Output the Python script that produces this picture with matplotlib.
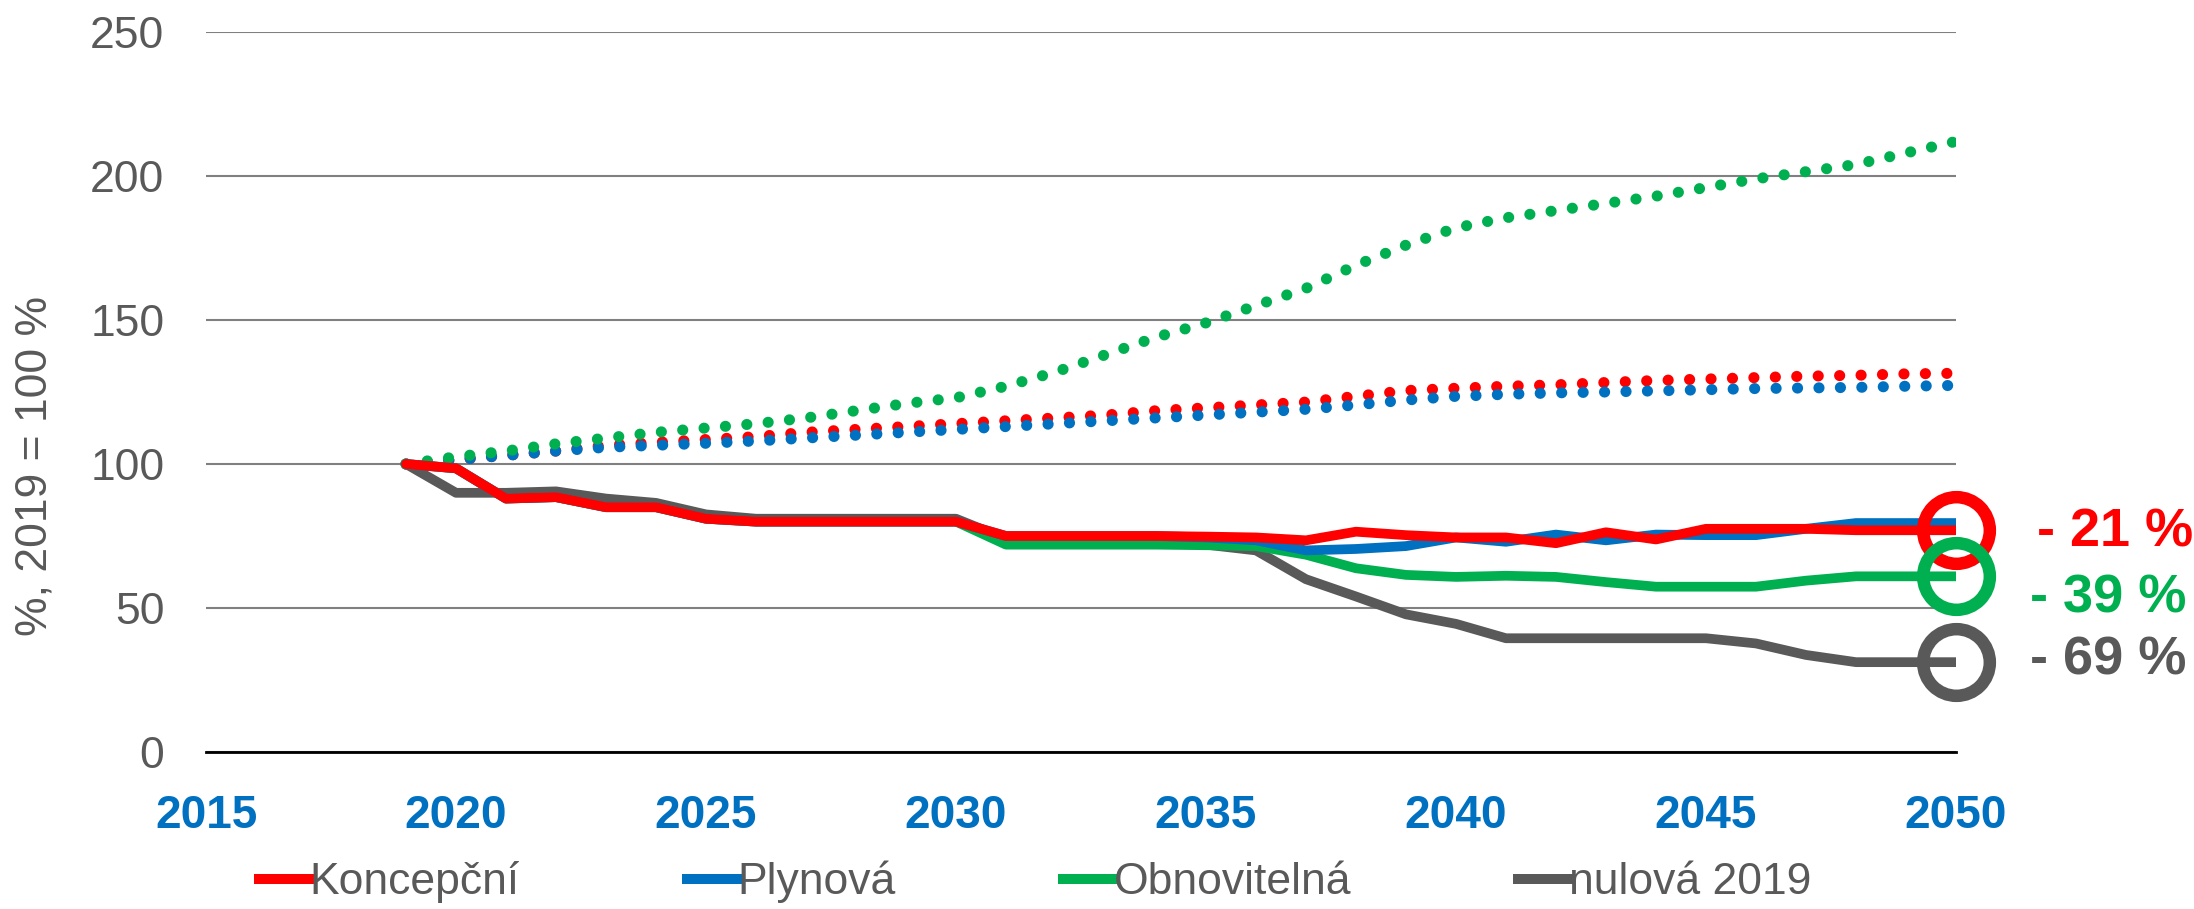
import matplotlib
matplotlib.use("Agg")
import matplotlib.pyplot as plt

plt.rcParams['font.family'] = ['Liberation Sans', 'DejaVu Sans']

# roky
years = list(range(2019, 2051))

# emise, plne cary (2019 = 100 %)
koncepcni = [100, 98.5, 88, 88.5, 85, 85, 81, 80, 80, 80, 80, 80, 75, 75, 75, 75,
             74.8, 74.5, 73.5, 76.5, 75.3, 74.5, 74.5, 72.5, 76.3, 73.8, 77.5, 77.5,
             77.5, 77, 77, 77]
plynova = [100, 98.5, 88, 88.5, 85, 85, 81, 80, 80, 80, 80, 80, 75, 75, 75, 75,
           74.5, 73.5, 70, 70.5, 71.5, 74.5, 73, 75.5, 73.5, 75.5, 75.3, 75.3,
           77.5, 79.5, 79.5, 79.5]
obnovitelna = [100, 98.5, 88, 88.5, 85, 85, 81, 80, 80, 80, 80, 80, 72, 72, 72, 72,
               71.8, 71.5, 68.5, 63.8, 61.5, 60.8, 61.2, 60.8, 59, 57.4, 57.4, 57.4,
               59.5, 61, 61, 61]
nulova = [100, 90, 90, 90.5, 88, 86.5, 82.5, 81, 81, 81, 81, 81, 74, 73.5, 72.5, 72.5,
          72, 70, 60, 54, 47.8, 44.5, 39.5, 39.5, 39.5, 39.5, 39.5, 37.7, 33.7, 31.2,
          31.2, 31.2]

# teckovane cary
koncepcni_dot = [100, 101.5, 103, 104.5, 106.5, 107.5, 108.5, 109.5, 111, 112, 113, 114,
                 115, 116, 117, 118.5, 119.5, 120.5, 121.5, 123.5, 125.5, 126.3, 127,
                 127.5, 128.3, 129, 129.5, 130, 130.5, 130.8, 131.3, 131.5]
plynova_dot = [100, 101.5, 103, 104.5, 105.8, 106.5, 107.2, 108, 109, 110, 111, 112,
               113, 114, 115, 116, 117, 118, 119, 120.5, 122.2, 123.5, 124.2, 124.7,
               125, 125.4, 125.8, 126.2, 126.4, 126.6, 127, 127.3]
obnovitelna_dot = [100, 102.5, 104.5, 107, 109, 111, 112.5, 114, 116, 118.5, 121, 123,
                   127, 132, 138, 144, 149, 155, 161, 169, 176, 182, 185.5, 188, 190.5,
                   193, 196, 199, 201.5, 204, 208, 212]

labels = ['Koncepční', 'Plynová', 'Obnovitelná', 'nulová 2019']
end_texts = ['- 21 %', '- 39 %', '- 69 %']

RED = '#FF0000'
BLUE = '#0070C0'
GREEN = '#00B050'
GREY = '#595959'

fig = plt.figure(figsize=(21.94, 9.09), dpi=100)
ax = fig.add_axes([0.0939, 0.1727, 0.7976, 0.7921])

dots = (0, (0.01, 1.92))
for vals, c in [(koncepcni_dot, RED), (plynova_dot, BLUE), (obnovitelna_dot, GREEN)]:
    ax.plot(years, vals, color=c, lw=8, linestyle=dots, dash_capstyle='round')

lw = 7
ax.plot(years, nulova, color=GREY, lw=lw, solid_joinstyle='round', solid_capstyle='round', zorder=3)
ax.plot(years, obnovitelna, color=GREEN, lw=lw, solid_joinstyle='round', solid_capstyle='round', zorder=3)
ax.plot(years, plynova, color=BLUE, lw=lw, solid_joinstyle='round', solid_capstyle='round', zorder=3)
ax.plot(years, koncepcni, color=RED, lw=lw, solid_joinstyle='round', solid_capstyle='round', zorder=3)

# krouzky a popisky na konci
ends = [(koncepcni, RED, (58, -1.5)), (obnovitelna, GREEN, (53, -16)), (nulova, GREY, (53, 1))]
for (vals, c, off), txt in zip(ends, end_texts):
    ax.plot(years[-1], vals[-1], marker='o', ms=48, mfc='none', mec=c, mew=9,
            clip_on=False, zorder=4)
    ax.annotate(txt, xy=(years[-1], vals[-1]), xytext=off, textcoords='offset points',
                ha='left', va='center', color=c, fontsize=39, fontweight='bold',
                annotation_clip=False)

ax.set_xlim(2015, 2050)
ax.set_ylim(0, 250)
ax.set_xticks(range(2015, 2051, 5))
ax.set_yticks(range(0, 251, 50))
ax.tick_params(axis='x', length=0, pad=30, labelsize=33, labelcolor=BLUE)
ax.tick_params(axis='y', length=0, pad=30, labelsize=32, labelcolor=GREY)
for t in ax.get_xticklabels():
    t.set_fontweight('bold')
ax.grid(axis='y', color='#808080', lw=1.5)
ax.set_axisbelow(True)
for s in ['top', 'right', 'left']:
    ax.spines[s].set_visible(False)
ax.spines['bottom'].set_color('black')
ax.spines['bottom'].set_linewidth(2)
ax.spines['bottom'].set_zorder(2.5)

fig.text(35 / 2194, 1 - 466 / 909, '%, 2019 = 100 %', rotation=90, ha='center',
         va='center', fontsize=32, color=GREY)

handles = [plt.Line2D([], [], color=c, lw=7.2) for c in [RED, BLUE, GREEN, GREY]]
leg = fig.legend(handles, labels, loc='center', ncol=4, frameon=False,
                 bbox_to_anchor=((249 + 1821) / 2 / 2194, 1 - 882 / 909),
                 fontsize=32, handlelength=1.15, handletextpad=0.0,
                 columnspacing=3.75, borderpad=0)
for t in leg.get_texts():
    t.set_color(GREY)

fig.savefig('out.png', dpi=100)
